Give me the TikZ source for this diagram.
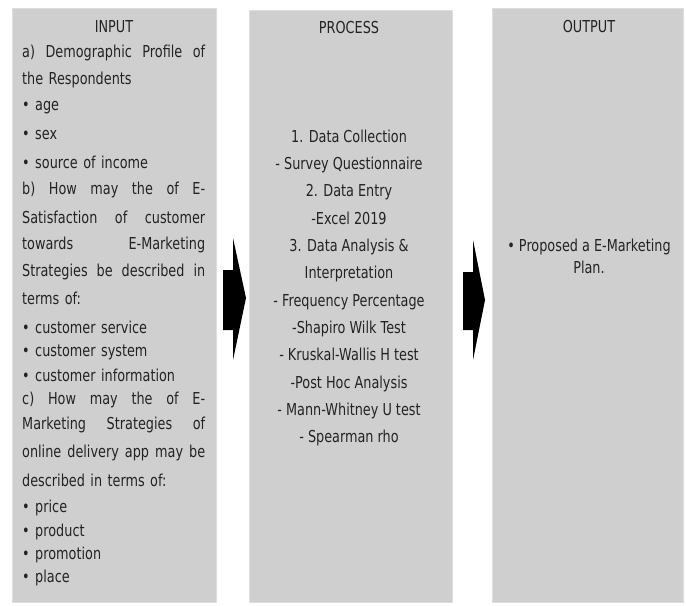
\documentclass[tikz,border=0pt]{standalone}
\usepackage{fontspec}
\setmainfont{DejaVu Sans}[FakeStretch=0.78]
\usetikzlibrary{positioning}
\definecolor{boxgray}{RGB}{207,207,207}
\definecolor{boxedge}{RGB}{222,222,222}
\definecolor{inkgray}{RGB}{35,35,35}
\newcommand{\jline}[1]{\makebox[183bp][s]{\spaceskip=.25em plus 1fil\relax #1}}

\begin{document}
\begin{tikzpicture}[x=1bp,y=-1bp,
    column/.style={fill=boxgray, draw=boxedge, line width=1.2bp, anchor=north west, inner sep=0pt, minimum height=594bp},
    heading/.style={inner sep=0pt, text=inkgray},
    item/.style={anchor=west, inner sep=0pt, text width=183bp, text=inkgray},
    steps/.style={inner sep=0pt, align=center, text=inkgray},
    font=\fontsize{16.5}{20}\selectfont]

  \useasboundingbox (0,0) rectangle (686,606);

  % columns
  \node[column, minimum width=204bp] (input) at (12,8) {};
  \node[column, minimum width=203bp, minimum height=592bp] (process) at (249,10) {};
  \node[column, minimum width=191bp] (output) at (492,8) {};

  \node[heading] (inputtitle) at (114,27) {INPUT};
  \node[heading] (processtitle) at (349,28) {PROCESS};
  \node[heading] (outputtitle) at (589,27) {OUTPUT};

  % input lines
  \foreach \y/\t [count=\i] in {
      53/{\jline{a) Demographic Profile of}},
      80/{the Respondents},
      108/{\textbullet\ age},
      135/{\textbullet\ sex},
      162/{\textbullet\ source of income},
      190/{\jline{b) How may the of E-}},
      217/{\jline{Satisfaction of customer}},
      245/{\jline{towards E-Marketing}},
      272/{\jline{Strategies be described in}},
      298/{terms of:},
      327/{\textbullet\ customer service},
      352/{\textbullet\ customer system},
      375/{\textbullet\ customer information},
      400/{\jline{c) How may the of E-}},
      425/{\jline{Marketing Strategies of}},
      453/{\jline{online delivery app may be}},
      480/{described in terms of:},
      508/{\textbullet\ price},
      532/{\textbullet\ product},
      555/{\textbullet\ promotion},
      578/{\textbullet\ place}}
    \node[item] (in\i) at (22,\y) {\t};

  % process lines
  \node[steps, font=\fontsize{16.5}{27.4}\selectfont] (proc) at (349,288) {
    1. Data Collection\\
    - Survey Questionnaire\\
    2. Data Entry\\
    -Excel 2019\\
    3. Data Analysis \&\\
    Interpretation\\
    - Frequency Percentage\\
    -Shapiro Wilk Test\\
    - Kruskal-Wallis H test\\
    -Post Hoc Analysis\\
    - Mann-Whitney U test\\
    - Spearman rho};

  % output
  \node[steps, font=\fontsize{16.5}{22}\selectfont] (plan) at (589,256) {\textbullet\ Proposed a E-Marketing\\Plan.};

  % block arrows
  \fill (223,270) -- (233,270) -- (233,238) -- (246,298) -- (233,360) -- (233,330) -- (223,330) -- cycle;
  \fill (463,272) -- (473,272) -- (473,240) -- (485,300) -- (473,360) -- (473,330) -- (463,330) -- cycle;
\end{tikzpicture}
\end{document}
